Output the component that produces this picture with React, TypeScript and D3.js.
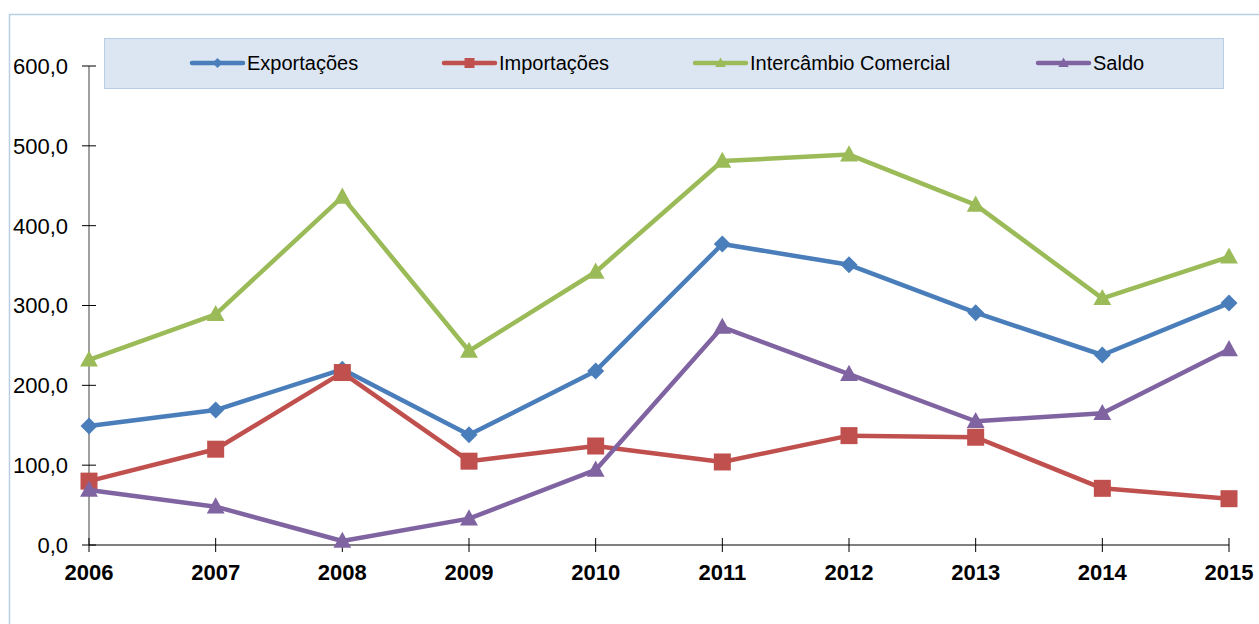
import React from "react";
import * as d3 from "d3";

const years = ["2006", "2007", "2008", "2009", "2010", "2011", "2012", "2013", "2014", "2015"];
const exportacoes = [149, 169, 220, 138, 218, 377, 351, 291, 238, 303];
const importacoes = [80, 120, 216, 105, 124, 104, 137, 135, 71, 58];
const intercambio = [232, 289, 436, 243, 342, 481, 489, 426, 309, 361];
const saldo = [69, 48, 5, 33, 94, 273, 214, 155, 165, 245];
const yTicks = [0, 100, 200, 300, 400, 500, 600];

type Series = { name: string; values: number[]; color: string; marker: "diamond" | "square" | "triangle" };

const series: Series[] = [
  { name: "Exportações", values: exportacoes, color: "#4A7EBB", marker: "diamond" },
  { name: "Importações", values: importacoes, color: "#C0504D", marker: "square" },
  { name: "Intercâmbio Comercial", values: intercambio, color: "#9BBB59", marker: "triangle" },
  { name: "Saldo", values: saldo, color: "#8064A2", marker: "triangle" },
];

const legendPos = [192, 444, 695, 1038];

const W = 1259;
const H = 624;

function Marker({ type, x, y, color, s }: { type: string; x: number; y: number; color: string; s: number }) {
  if (type === "diamond") {
    return <path d={`M${x},${y - s}L${x + s},${y}L${x},${y + s}L${x - s},${y}Z`} fill={color} />;
  }
  if (type === "square") {
    return <rect x={x - s} y={y - s} width={2 * s} height={2 * s} fill={color} />;
  }
  return <path d={`M${x},${y - s * 1.1}L${x + s * 1.05},${y + s * 0.8}L${x - s * 1.05},${y + s * 0.8}Z`} fill={color} />;
}

export default function App() {
  const x = d3.scalePoint<string>().domain(years).range([89, 1229]);
  const y = d3.scaleLinear().domain([0, 600]).range([545, 66]);
  const line = d3
    .line<number>()
    .x((_, i) => x(years[i]) as number)
    .y((d) => y(d));
  const font = "'Liberation Sans', Arial, sans-serif";

  return (
    <svg width={W} height={H} style={{ position: "absolute", left: 0, top: 0, background: "#fff" }} fontFamily={font}>
      <rect x={9.5} y={14.5} width={W + 10} height={H + 10} fill="#fff" stroke="#B9CDE5" strokeWidth={1.5} />
      {/* legend */}
      <rect x={104.5} y={38.5} width={1119} height={50} fill="#DCE6F2" stroke="#B9CDE5" strokeWidth={1} />
      {series.map((s, i) => {
        const lx = legendPos[i];
        return (
          <g key={s.name}>
            <line x1={lx} x2={lx + 51} y1={63} y2={63} stroke={s.color} strokeWidth={4.5} strokeLinecap="round" />
            <Marker type={s.marker} x={lx + 25.5} y={63} color={s.color} s={s.marker === "square" ? 5 : 5} />
            <text x={lx + 55} y={63} dy="0.36em" fontSize={20} fill="#000">
              {s.name}
            </text>
          </g>
        );
      })}
      {/* y axis */}
      <line x1={89} x2={89} y1={66} y2={545} stroke="#7F7F7F" strokeWidth={1.5} />
      {yTicks.map((t) => (
        <g key={t}>
          <line x1={82} x2={96} y1={y(t)} y2={y(t)} stroke="#000" strokeWidth={1} />
          <text x={68} y={y(t)} dy="0.36em" textAnchor="end" fontSize={22} fill="#000">
            {d3.format(".1f")(t).replace(".", ",")}
          </text>
        </g>
      ))}
      {/* x axis */}
      <line x1={89} x2={1229} y1={545} y2={545} stroke="#000" strokeWidth={1.2} />
      {years.map((yr) => (
        <g key={yr}>
          <line x1={x(yr)} x2={x(yr)} y1={538} y2={552} stroke="#000" strokeWidth={1} />
          <text x={x(yr)} y={572} dy="0.36em" textAnchor="middle" fontSize={22} fontWeight="bold" fill="#000">
            {yr}
          </text>
        </g>
      ))}
      {/* series */}
      {series.map((s) => (
        <g key={s.name}>
          <path d={line(s.values) ?? ""} fill="none" stroke={s.color} strokeWidth={4.5} strokeLinejoin="round" />
          {s.values.map((v, i) => (
            <Marker key={i} type={s.marker} x={x(years[i]) as number} y={y(v)} color={s.color} s={s.marker === "square" ? 8.5 : 8.5} />
          ))}
        </g>
      ))}
    </svg>
  );
}
